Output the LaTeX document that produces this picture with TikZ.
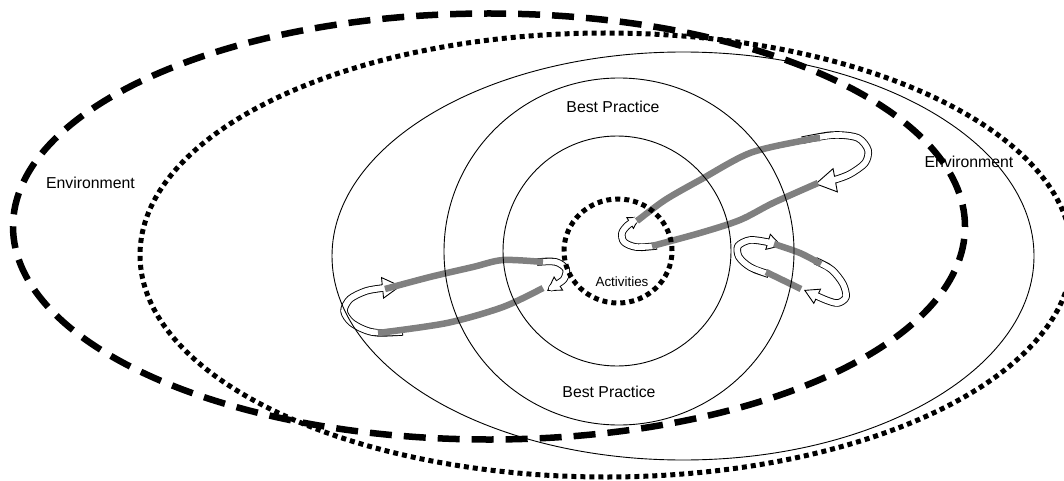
\documentclass[tikz,border=0pt]{standalone}
\usepackage{fontspec}
\setmainfont{Liberation Sans}
\usetikzlibrary{arrows.meta}
\definecolor{flowgray}{RGB}{128,128,128}
\begin{document}
\begin{tikzpicture}[x=1pt,y=-1pt,
  dashring/.style={line width=6.5pt, dash pattern=on 22pt off 12pt},
  dotring/.style={line width=5pt, dash pattern=on 5pt off 4pt},
  ring/.style={line width=0.9pt},
  bandout/.style={line width=7.5pt, line join=round, shorten <=-0.9pt},
  bandin/.style={line width=5.7pt, white, line join=round},
  flow/.style={line width=6.5pt, flowgray},
  lbl/.style={font=\fontsize{15.8}{19}\selectfont, inner sep=0pt},
  smalllbl/.style={font=\fontsize{13.4}{16}\selectfont, inner sep=0pt},
]
\useasboundingbox (0,0) rectangle (1064,481);
\clip (0,0) rectangle (1064,481);

% ---- loop A (left) ----
\draw[bandout, -{Triangle[length=19pt,width=22pt,line width=0.9pt,fill=white]}]
  plot[smooth] coordinates {(402,332) (372,332) (352,323) (344,311) (350,299) (366,291) (383,288) (401,286)};
\draw[bandin, shorten >=16pt]
  plot[smooth] coordinates {(402,332) (372,332) (352,323) (344,311) (350,299) (366,291) (383,288) (401,286)};
\draw[bandout, -{Triangle[length=14pt,width=17pt,line width=0.9pt,fill=white]}]
  plot[smooth] coordinates {(538,262) (556,262) (566,269) (564,279) (556,285) (547,291)};
\draw[bandin, shorten >=11pt]
  plot[smooth] coordinates {(538,262) (556,262) (566,269) (564,279) (556,285) (547,291)};
\draw[flow] plot[smooth] coordinates {(385,289) (430,277) (473,267) (503,260) (543,262)};
\draw[flow] plot[smooth] coordinates {(378,333) (447,323) (503,307) (543,288)};

% ---- loop B (upper right) ----
\draw[bandout, -{Triangle[length=12pt,width=14pt,line width=0.9pt,fill=white]}]
  plot[smooth] coordinates {(656,246) (636,247) (624,242) (622,233) (628,225) (640,217)};
\draw[bandin, shorten >=9pt]
  plot[smooth] coordinates {(656,246) (636,247) (624,242) (622,233) (628,225) (640,217)};
\draw[bandout, -{Triangle[length=21pt,width=25pt,line width=0.9pt,fill=white]}]
  plot[smooth] coordinates {(803,140) (835,135) (858,138) (868,150) (865,163) (850,174) (834,180) (815,184)};
\draw[bandin, shorten >=18pt]
  plot[smooth] coordinates {(803,140) (835,135) (858,138) (868,150) (865,163) (850,174) (834,180) (815,184)};
\draw[flow] plot[smooth] coordinates {(637,221) (665,200) (700,180) (750,153) (806,140) (820,138)};
\draw[flow] plot[smooth] coordinates {(652,246) (700,233) (740,220) (773,203) (818,183)};

% ---- loop C (small right) ----
\draw[bandout, -{Triangle[length=15pt,width=17pt,line width=0.9pt,fill=white]}]
  plot[smooth] coordinates {(768,274) (750,267) (739,257) (738,246) (750,240) (767,242) (782,246)};
\draw[bandin, shorten >=12pt]
  plot[smooth] coordinates {(768,274) (750,267) (739,257) (738,246) (750,240) (767,242) (782,246)};
\draw[bandout, -{Triangle[length=15pt,width=17pt,line width=0.9pt,fill=white]}]
  plot[smooth] coordinates {(816,261) (832,270) (843,284) (846,297) (838,303) (826,300) (804,290)};
\draw[bandin, shorten >=12pt]
  plot[smooth] coordinates {(816,261) (832,270) (843,284) (846,297) (838,303) (826,300) (804,290)};
\draw[flow] plot[smooth] coordinates {(774,244) (800,253) (821,264)};
\draw[flow] plot[smooth] coordinates {(766,272) (801,289)};

% ---- labels ----
\node[lbl] (envL) at (90.5,183) {Environment};
\node[lbl] (envR) at (969,162) {Environment};
\node[lbl] (bpTop) at (613,107) {Best Practice};
\node[lbl] (bpBot) at (609,392) {Best Practice};
\node[smalllbl] (act) at (622,282) {Activities};

% ---- rings ----
\draw[dashring] (489,226.5) ellipse [x radius=476pt, y radius=213pt];
\draw[dotring] (606,255) ellipse [x radius=466pt, y radius=222pt];
\draw[ring] (683,256) ellipse [x radius=351pt, y radius=204pt];
\draw[ring] (619,251.5) ellipse [x radius=175pt, y radius=173.5pt];
\draw[ring] (617,251) ellipse [x radius=114pt, y radius=115pt];
\draw[dotring] (618,251) ellipse [x radius=54pt, y radius=52pt];
\end{tikzpicture}
\end{document}
